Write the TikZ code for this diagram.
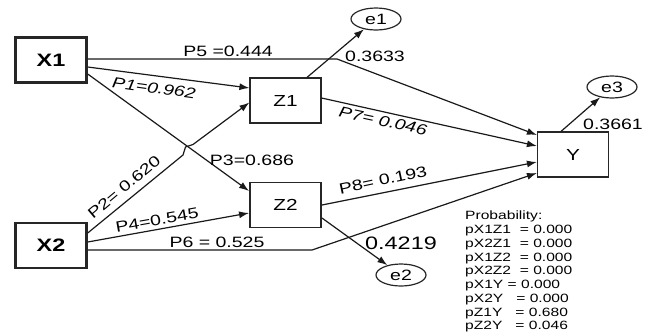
\documentclass[tikz,border=0pt]{standalone}
\usepackage{fontspec}
\usepackage{graphicx}
\setmainfont{Liberation Sans}
\usetikzlibrary{arrows.meta,shapes.geometric}
% labels are set slightly wide
\newcommand{\wtext}[1]{\scalebox{1.3}[1]{#1}}

\begin{document}
\begin{tikzpicture}[x=1pt,y=-1pt,
  var/.style={draw=black!85, minimum width=71pt, minimum height=45pt, inner sep=0pt,
              font=\fontsize{16}{18}\selectfont},
  exovar/.style={var, line width=2.4pt, font=\fontsize{18}{20}\selectfont\bfseries},
  medvar/.style={var, line width=1.9pt},
  endovar/.style={var, line width=1.2pt},
  err/.style={draw=black!85, ellipse, line width=1.2pt, inner sep=0pt,
              minimum width=50pt, minimum height=22pt, font=\fontsize{15}{17}\selectfont},
  link/.style={line width=1.2pt, draw=black!90, -{Latex[length=10pt,width=7pt]}},
  coef/.style={font=\fontsize{15}{17}\selectfont, inner sep=0pt, text=black},
]
\useasboundingbox (0,0) rectangle (652,335);

% variables
\node[exovar]  (X1) at (51,60)      {\wtext{X1}};
\node[exovar]  (X2) at (51,245.5)   {\wtext{X2}};
\node[endovar] (Z1) at (285.5,100.5){\wtext{Z1}};
\node[medvar]  (Z2) at (285.5,205)  {\wtext{Z2}};
\node[endovar] (Y)  at (573,154.5)  {\wtext{Y}};

% error terms
\node[err] (e1) at (376,19)  {\wtext{e1}};
\node[err] (e2) at (401,275) {\wtext{e2}};
\node[err] (e3) at (612,87)  {\wtext{e3}};

% bend points and the hop where P2 passes P3
\coordinate (p5bend) at (337,59);
\coordinate (p6bend) at (312,250);
\coordinate (hopA) at (183,155);
\coordinate (hopB) at (185.5,147);
\coordinate (hopC) at (193,144.5);

% paths
\draw[link] ([yshift=1pt]X1.east) -- (p5bend) -- ([yshift=19.5pt]Y.west);
\draw[link] ([yshift=-7pt]X1.east) -- ([yshift=12.5pt]Z1.west);
\draw[link] ([yshift=-14pt]X1.east) -- ([yshift=14pt]Z2.west);
\draw[link] ([yshift=12.5pt]X2.east) -- (hopA) -- (hopB) -- (hopC) -- ([yshift=-2pt]Z1.west);
\draw[link] ([yshift=3.5pt]X2.east) -- ([yshift=-8pt]Z2.west);
\draw[link] ([yshift=-4.5pt]X2.east) -- (p6bend) -- ([yshift=-18.5pt]Y.west);
\draw[link] ([yshift=2.5pt]Z1.east) -- ([yshift=8.5pt]Y.west);
\draw[link] (Z2.east) -- ([yshift=-7.5pt]Y.west);
\draw[link] ([xshift=21.5pt]Z1.north) -- (e1);
\draw[link] ([yshift=-13pt]Z2.east) -- (e2);
\draw[link] ([xshift=-12pt]Y.north) -- (e3);

% coefficients
\node[coef] (c5) at (228,51) {\wtext{P5 =0.444}};
\node[coef] (r1) at (375,56) {\wtext{0.3633}};
\node[coef, rotate=-8] (c1) at (154,88) {\itshape\wtext{P1=0.962}};
\node[coef] (c3) at (252,160) {\wtext{P3=0.686}};
\node[coef, rotate=40] (c2) at (124,187) {\wtext{P2= 0.620}};
\node[coef, rotate=10] (c4) at (157,220) {\wtext{P4=0.545}};
\node[coef] (c6) at (217,242.5) {\wtext{P6 = 0.525}};
\node[coef, rotate=-12] (c7) at (383,121) {\itshape\wtext{P7= 0.046}};
\node[coef, rotate=12] (c8) at (383,180) {\wtext{P8= 0.193}};
\node[coef] (r3) at (613,124) {\wtext{0.3661}};
\node[coef, font=\fontsize{18}{20}\selectfont] (r2) at (401,243) {\wtext{0.4219}};

% significance table
\node[anchor=north west, align=left, inner sep=0pt, text=black,
      font=\fontsize{12}{13.75}\selectfont] (prob) at (465,211) {%
  \wtext{Probability:}\\
  \wtext{pX1Z1\ \ = 0.000}\\
  \wtext{pX2Z1\ \ = 0.000}\\
  \wtext{pX1Z2\ \ = 0.000}\\
  \wtext{pX2Z2\ \ = 0.000}\\
  \wtext{pX1Y = 0.000}\\
  \wtext{pX2Y\ \ \ = 0.000}\\
  \wtext{pZ1Y\ \ \ = 0.680}\\
  \wtext{pZ2Y\ \ \ = 0.046}};
\end{tikzpicture}
\end{document}
